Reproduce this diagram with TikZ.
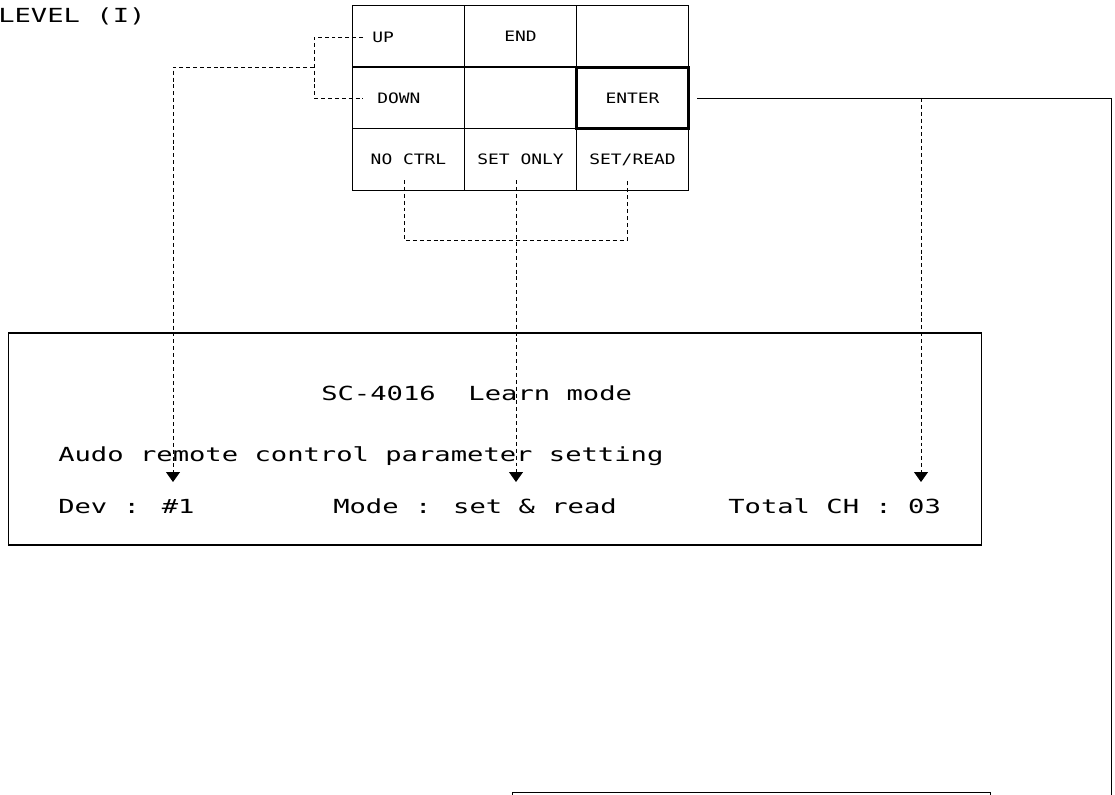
\documentclass[tikz,border=0pt]{standalone}
\usepackage{fontspec}
\newfontfamily\plotfont[FakeStretch=1.25]{DejaVu Sans Mono}
\newfontfamily\plotwide[FakeStretch=1.4]{DejaVu Sans Mono}
\usetikzlibrary{arrows.meta,positioning}

\begin{document}
\begin{tikzpicture}[
    x=0.025cm,y=-0.025cm,
    key/.style={rectangle,draw,line width=0.6pt,minimum width=2.79cm,minimum height=1.54cm,inner sep=0pt,font=\plotfont\fontsize{10.2pt}{12pt}\selectfont},
    keytext/.style={anchor=west,inner sep=0pt,font=\plotfont\fontsize{10.2pt}{12pt}\selectfont},
    screentext/.style={anchor=base west,inner sep=0pt,font=\plotwide\fontsize{13.8pt}{16pt}\selectfont},
    screen/.style={rectangle,draw,line width=0.8pt,inner sep=0pt},
    dashline/.style={line width=0.6pt,dash pattern=on 2.8pt off 2.1pt},
    pointer/.style={dashline,-{Triangle[width=0.35cm,length=0.25cm]}},
    wire/.style={line width=0.7pt}
]
    \useasboundingbox (0,0) rectangle (1115,794);

    % Title
    \node[screentext] (level) at (-2,23) {LEVEL (I)};

    % Key grid
    \node[key] (up)     at (408.5,36) {};
    \node[key] (end)    at (520.5,36) {END};
    \node[key] (blanka) at (632.5,36) {};
    \node[key] (down)   at (408.5,98) {};
    \node[key] (blankb) at (520.5,98) {};
    \node[key] (noctrl) at (408.5,159.5) {NO CTRL};
    \node[key] (setonly) at (520.5,159.5) {SET ONLY};
    \node[key] (setread) at (632.5,159.5) {SET/READ};
    \node[key,line width=2pt] (enter) at (632.5,98) {ENTER};
    \node[keytext] (uptxt) at (372,37) {UP};
    \node[keytext] (downtxt) at (377,98) {DOWN};

    % Screen
    \node[screen,minimum width=24.3cm,minimum height=5.3cm] (display) at (495,439) {};
    \node[screentext] (title) at (321,400) {SC-4016\ \ Learn mode};
    \node[screentext] (audo) at (58,461) {Audo remote control parameter setting};
    \node[screentext] (dev) at (58,513) {Dev : \#1};
    \node[screentext] (mode) at (333,513) {Mode : set \& read};
    \node[screentext] (total) at (728,513) {Total CH : 03};

    % Next screen (cut off)
    \node[screen,minimum width=11.95cm,minimum height=2cm,anchor=north west] (nextscreen) at (512,792) {};

    % Connector points
    \coordinate (upend) at (363,37);
    \coordinate (downend) at (363,98);
    \coordinate (updownjoin) at (314,67);
    \coordinate (devtip) at (173,482);
    \coordinate (ncpin) at (404,180);
    \coordinate (sopin) at (516,180);
    \coordinate (srpin) at (627,180);
    \coordinate (modetip) at (516,482);
    \coordinate (enterout) at (697,98);
    \coordinate (totaltip) at (921,482);
    \coordinate (offpage) at (1111,800);

    % Dashed links
    \draw[dashline] (upend) -| (314,98) -- (downend);
    \draw[pointer] (updownjoin) -| (devtip);
    \draw[dashline] (ncpin) |- (sopin |- 0,240) -| (srpin);
    \draw[pointer] (sopin) -- (modetip);
    \draw[pointer] (totaltip |- enterout) -- (totaltip);

    % Solid link
    \draw[wire] (enterout) -| (offpage);
\end{tikzpicture}
\end{document}
